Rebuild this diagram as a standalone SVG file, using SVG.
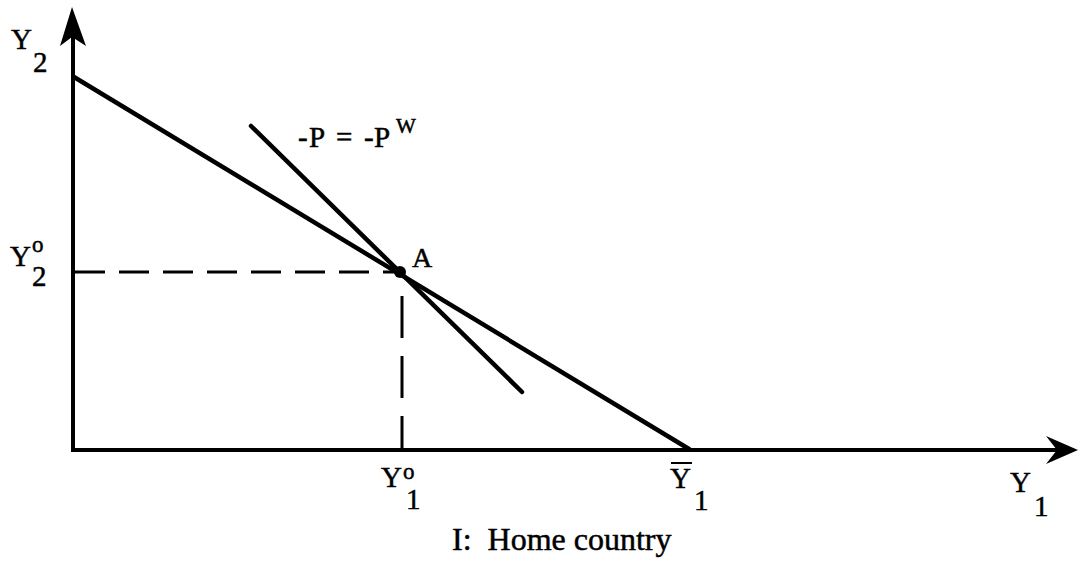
<svg xmlns="http://www.w3.org/2000/svg" width="1078" height="565" viewBox="0 0 1078 565">
<style>
.ax{stroke:#000;stroke-width:4;fill:none}
.ln{stroke:#000;stroke-width:4.5;fill:none;stroke-linecap:round}
.ds{stroke:#000;stroke-width:3;fill:none}
text{font-family:"Liberation Serif","Times New Roman",serif;fill:#000;stroke:#000;stroke-width:0.5}
.b{font-size:29px}
.s{font-size:23px}
</style>
<rect width="1078" height="565" fill="#fff"/>
<g id="axes">
<line class="ax" x1="73" y1="450" x2="73" y2="30"/>
<line class="ax" x1="71" y1="450" x2="1060" y2="450"/>
<path d="M72,7 L86,46 L72,37 L60,46 Z" fill="#000"/>
<path d="M1078,450 L1046,436 L1057,450 L1046,464 Z" fill="#000"/>
</g>
<g id="connectors">
<line class="ln" x1="74" y1="77" x2="689" y2="449"/>
<line class="ln" x1="251" y1="126" x2="522" y2="392"/>
<line class="ds" x1="75" y1="272" x2="400" y2="272" stroke-dasharray="30 14"/>
<line class="ds" x1="402" y1="296" x2="402" y2="450" stroke-dasharray="42 18"/>
</g>
<g id="pointA">
<circle cx="400" cy="272" r="6" fill="#000"/>
<text x="412" y="267" style="font-size:28px">A</text>
</g>
<g id="labels">
<text class="b" x="11" y="49">Y</text><text class="b" x="33" y="72">2</text>
<text class="b" x="10" y="266">Y</text><text class="s" x="32" y="252">o</text><text class="b" x="32" y="286">2</text>
<text class="b" x="381" y="487">Y</text><text class="s" x="403" y="479">o</text><text class="b" x="406" y="509">1</text>
<line x1="671" y1="463" x2="692" y2="463" stroke="#000" stroke-width="2"/>
<text class="b" x="670" y="488">Y</text><text class="b" x="694" y="510">1</text>
<text class="b" x="1010" y="492">Y</text><text class="b" x="1034" y="516">1</text>
<text style="font-size:29px" x="298" y="147">-</text>
<text style="font-size:29px" x="309" y="147">P</text>
<text style="font-size:29px" x="336" y="147">=</text>
<text style="font-size:29px" x="364" y="147">-</text>
<text style="font-size:29px" x="374" y="147">P</text>
<text style="font-size:21px" x="396" y="133">W</text>
<text style="font-size:32px" x="452" y="550" xml:space="preserve">I:  Home country</text>
</g>
</svg>
